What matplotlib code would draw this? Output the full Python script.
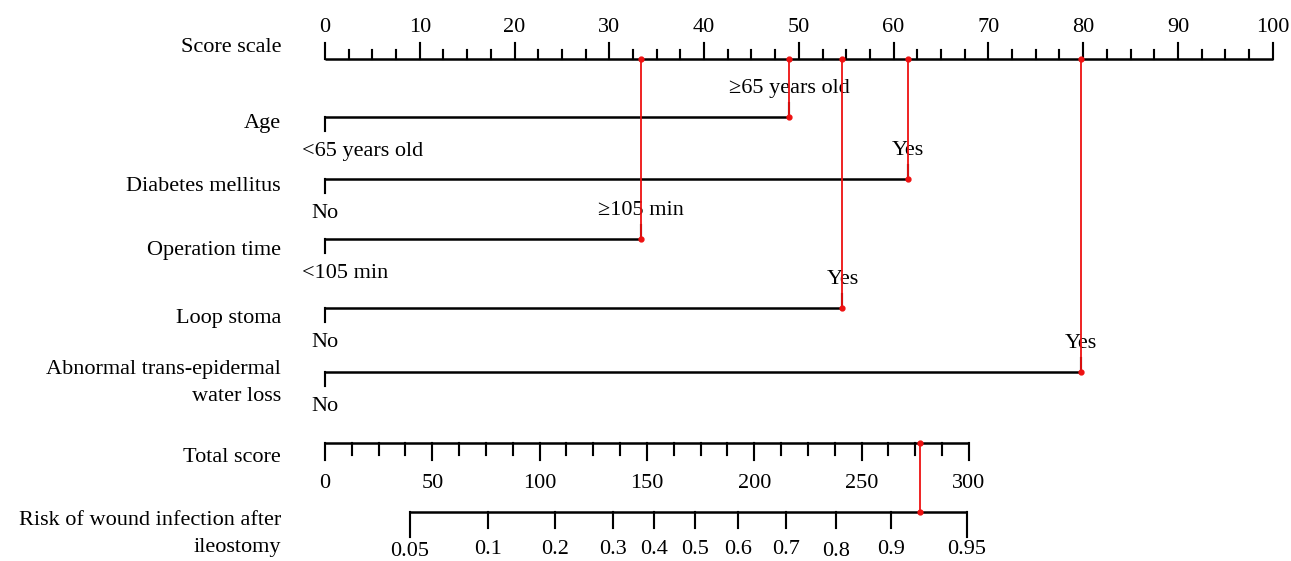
import numpy as np
import matplotlib
matplotlib.use("Agg")
import matplotlib.pyplot as plt

# nomogram data
score_ticks = np.arange(0, 101, 10)
score_minor = np.arange(0, 100.1, 2.5)

variables = ["Age", "Diabetes mellitus", "Operation time", "Loop stoma",
             "Abnormal trans-epidermal\nwater loss"]
low_labels = ["<65 years old", "No", "<105 min", "No", "No"]
high_labels = ["\u226565 years old", "Yes", "\u2265105 min", "Yes", "Yes"]
high_points = [49.0, 61.5, 33.3, 54.6, 79.8]

total_ticks = np.arange(0, 301, 50)
total_minor = np.arange(0, 300.1, 12.5)
total_max = 300
total_score = 277

risk_labels = ["0.05", "0.1", "0.2", "0.3", "0.4", "0.5", "0.6", "0.7", "0.8", "0.9", "0.95"]
risk_points = [39.5, 76.1, 107.1, 134.0, 153.1, 172.5, 192.4, 214.8, 238.2, 263.5, 299.1]

# layout (pixel rows, y grows downward)
W, H = 1291, 561
px_per_pt = 9.477
x0_px = 325
score_y = 59
row_y = [116.7, 179.3, 239, 308.3, 371.7]
name_base = [128.3, 190.7, 255, 323.3, 374]
total_y = 443
risk_y = 512.3
total_span = 67.95  # total score 0..300 drawn over score 0..67.95

fs = 16
font = ["Liberation Serif", "DejaVu Serif"]
lw = 1.8
red = "#ee1111"

fig = plt.figure(figsize=(W / 100, H / 100), dpi=100)
ax = fig.add_axes([0, 0, 1, 1])
ax.set_xlim(-x0_px / px_per_pt, (W - x0_px) / px_per_pt)
ax.set_ylim(H, 0)
ax.axis("off")

label_x = (281 - x0_px) / px_per_pt


def tot2x(t):
    return np.asarray(t, dtype=float) * total_span / total_max


def name(y, txt):
    lines = txt.split("\n")
    for i, s in enumerate(lines):
        ax.text(label_x, y + i * 27, s, ha="right", va="baseline",
                fontsize=fs, family=font)


# score scale
ax.plot([0, 100], [score_y, score_y], color="black", lw=lw, solid_capstyle="butt")
for s in score_minor:
    top = score_y - 16 if s % 10 == 0 else score_y - 9
    ax.plot([s, s], [score_y, top], color="black", lw=lw * 0.85)
for s in score_ticks:
    ax.text(s, 32, str(s), ha="center", va="baseline", fontsize=fs, family=font)
name(52.3, "Score scale")

# variable rows
for i, var in enumerate(variables):
    y = row_y[i]
    hp = high_points[i]
    ax.plot([0, hp], [y, y], color="black", lw=lw, solid_capstyle="butt")
    ax.plot([0, 0], [y, y + 14], color="black", lw=lw * 0.85)
    ax.plot([hp, hp], [y, y - 14], color="black", lw=lw * 0.85)
    name(name_base[i], var)
    low = low_labels[i]
    if len(low) <= 3:
        ax.text(0, y + 39, low, ha="center", va="baseline", fontsize=fs, family=font)
    else:
        ax.text(-23 / px_per_pt, y + 39, low, ha="left", va="baseline",
                fontsize=fs, family=font)
    ax.text(hp, y - 24, high_labels[i], ha="center", va="baseline",
            fontsize=fs, family=font)
    # red guide from score scale down to the chosen level
    ax.plot([hp, hp], [score_y, y], color=red, lw=1.3, zorder=5)
    ax.plot([hp, hp], [score_y, y], "o", color=red, ms=3.5, zorder=6)

# total score axis
ax.plot(tot2x([0, total_max]), [total_y, total_y], color="black", lw=lw,
        solid_capstyle="butt")
for t in total_minor:
    bot = total_y + 17 if t % 50 == 0 else total_y + 12
    xx = tot2x(t)
    ax.plot([xx, xx], [total_y, bot], color="black", lw=lw * 0.85)
for t in total_ticks:
    ax.text(tot2x(t), 488.3, str(t), ha="center", va="baseline", fontsize=fs,
            family=font)
name(461.7, "Total score")

# risk axis
rx = tot2x(risk_points)
ax.plot([rx[0], rx[-1]], [risk_y, risk_y], color="black", lw=lw, solid_capstyle="butt")
for j, xx in enumerate(rx):
    end = j == 0 or j == len(rx) - 1
    bot = risk_y + 25 if end else risk_y + 16
    ax.plot([xx, xx], [risk_y, bot], color="black", lw=lw * 0.85)
    dy = 2 if risk_labels[j] in ("0.05", "0.8") else 0
    ax.text(xx, 553.5 + dy, risk_labels[j], ha="center", va="baseline",
            fontsize=fs, family=font)
name(525, "Risk of wound infection after\nileostomy")

# red guide from total score to risk
tx = tot2x(total_score)
ax.plot([tx, tx], [total_y, risk_y], color=red, lw=1.3, zorder=5)
ax.plot([tx, tx], [total_y, risk_y], "o", color=red, ms=3.5, zorder=6)

fig.savefig("out.png", dpi=100)
